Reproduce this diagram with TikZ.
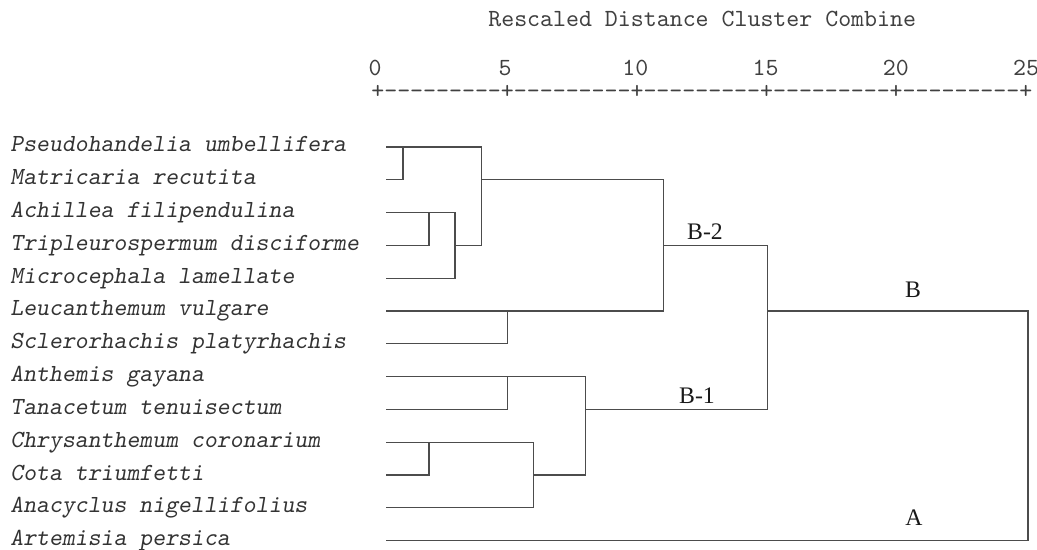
\documentclass[tikz,border=0pt]{standalone}
\usepackage{fontspec}
\setmainfont{Liberation Serif}
\newfontfamily\scalefont{lmmono10-regular}[Extension=.otf, Ligatures=TeXOff]
\newfontfamily\taxonfont{lmmonoslant10-regular}[Extension=.otf, Ligatures=TeXOff]
\begin{document}
\begin{tikzpicture}[x=0.02cm, y=-0.02cm,
    taxon/.style={anchor=base west, inner sep=0pt, text=black!80,
      font=\taxonfont\fontsize{14}{16}\selectfont},
    scaletext/.style={inner sep=0pt, text=black!75,
      font=\scalefont\fontsize{14.05}{16}\selectfont},
    clade/.style={anchor=base, inner sep=0pt, text=black!90,
      font=\fontsize{13.5}{15}\selectfont},
    link/.style={draw=black!70, line width=0.75pt}]
  \useasboundingbox (0,0) rectangle (1037,550);
  \node[scaletext, anchor=base west] (title) at (488,27) {Rescaled Distance Cluster Combine};
  \foreach \d in {0,5,...,25}
    \node[scaletext, anchor=base, text depth=0pt] (n\d) at ({377+26.04*\d-2},76) {\d};
  \node[scaletext, anchor=base west, text height=1.2ex, text depth=0pt] (axis) at (371,99)
    {+---------+---------+---------+---------+---------+};
  \foreach \name [count=\i] in {Pseudohandelia umbellifera, Matricaria recutita,
      Achillea filipendulina, Tripleurospermum disciforme, Microcephala lamellate,
      Leucanthemum vulgare, Sclerorhachis platyrhachis, Anthemis gayana,
      Tanacetum tenuisectum, Chrysanthemum coronarium, Cota triumfetti,
      Anacyclus nigellifolius, Artemisia persica} {
    \node[taxon] (t\i) at (10,{152+32.8*(\i-1)}) {\name};
    \coordinate (l\i) at (386,{147+32.8*(\i-1)});
  }
  \coordinate (cPM) at (403,0 |- l1);
  \coordinate (cAT) at (429.1,0 |- l3);
  \coordinate (cATM) at (455.1,0 |- l4);
  \coordinate (cTop) at (481.2,0 |- l2);
  \coordinate (cLS) at (507.2,0 |- l6);
  \coordinate (cB2) at (663.4,0 |- l4);
  \coordinate (cAnT) at (507.2,0 |- l8);
  \coordinate (cCC) at (429.1,0 |- l10);
  \coordinate (cCCA) at (533.2,0 |- l11);
  \coordinate (cB1) at (585.3,0 |- l9);
  \coordinate (cB) at (767.6,0 |- l6);
  \coordinate (cRoot) at (1028,0 |- l6);
  \draw[link] (l1) -| (cPM |- l2) -- (l2);
  \draw[link] (l3) -| (cAT |- l4) -- (l4);
  \draw[link] (cAT) -| (cATM |- l5) -- (l5);
  \draw[link] (cPM) -| (cTop |- cATM) -- (cATM);
  \draw[link] (l6) -| (cLS |- l7) -- (l7);
  \draw[link] (cTop) -| (cB2 |- cLS) -- (cLS);
  \draw[link] (l8) -| (cAnT |- l9) -- (l9);
  \draw[link] (l10) -| (cCC |- l11) -- (l11);
  \draw[link] (cCC) -| (cCCA |- l12) -- (l12);
  \draw[link] (cAnT) -| (cB1 |- cCCA) -- (cCCA);
  \draw[link] (cB2) -| (cB |- cB1) -- (cB1);
  \draw[link] (cB) -| (cRoot |- l13) -- (l13);
  \node[clade] (labB2) at (705,240) {B-2};
  \node[clade] (labB1) at (697,403) {B-1};
  \node[clade] (labB) at (913,297) {B};
  \node[clade] (labA) at (914,525) {A};
\end{tikzpicture}
\end{document}
